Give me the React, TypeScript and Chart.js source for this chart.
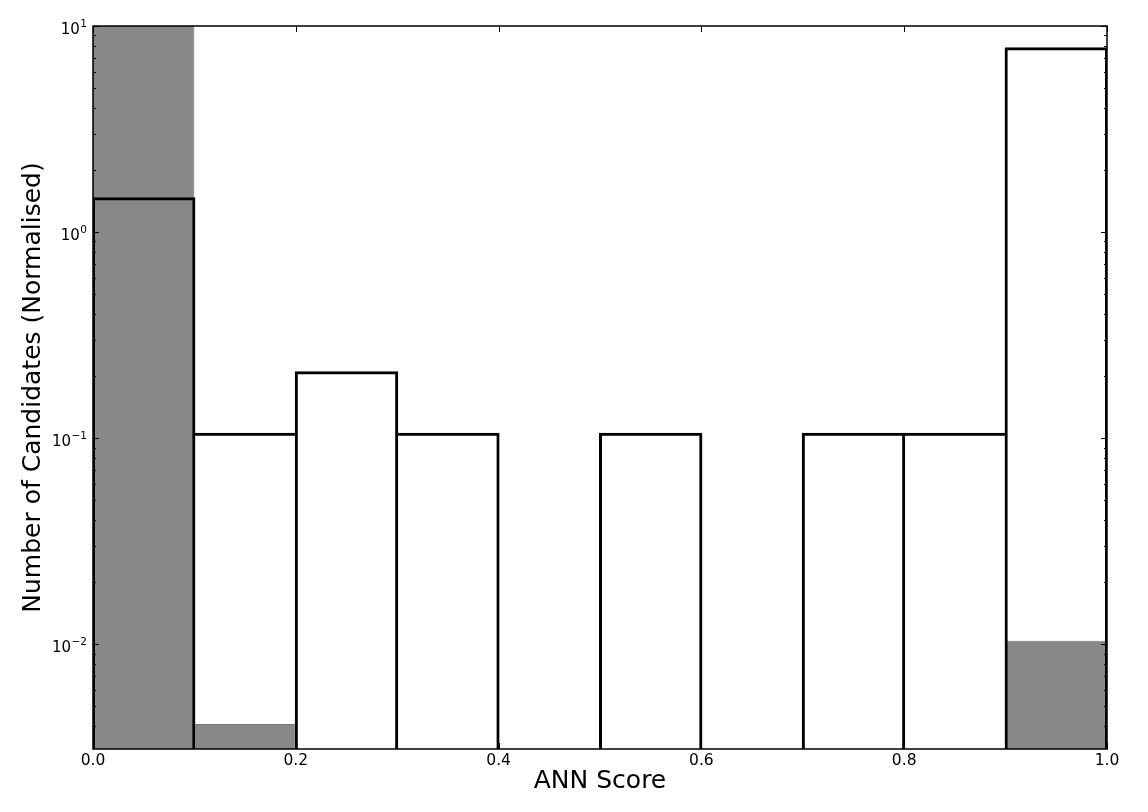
import React, { useEffect, useRef } from 'react';
import { Chart, registerables } from 'chart.js';

Chart.register(...registerables);

// Histogram bins (ANN score), 10 bins of width 0.1
const binCenters = [0.05, 0.15, 0.25, 0.35, 0.45, 0.55, 0.65, 0.75, 0.85, 0.95];
// Grey filled histogram (normalised)
const backgroundValues: (number | null)[] = [10.5, 0.0041, null, null, null, null, null, null, null, 0.0104];
// Black outlined histogram (normalised)
const candidateValues: (number | null)[] = [1.46, 0.105, 0.209, 0.105, null, 0.105, null, 0.105, 0.105, 7.8];

const xTickValues = [0, 0.2, 0.4, 0.6, 0.8, 1.0];
const xTickLabels = ['0.0', '0.2', '0.4', '0.6', '0.8', '1.0'];
const yTickValues = [0.01, 0.1, 1, 10];
const yTickBase = '10';
const yTickExponents = ['\u22122', '\u22121', '0', '1'];
const yMin = 0.0031;
const yMax = 10;

const FONT = 'DejaVu Sans';
const LINE_W = 1;

function outlineWidths(i: number) {
  const v = candidateValues[i] as number;
  const prev = i > 0 ? candidateValues[i - 1] : null;
  const next = i < candidateValues.length - 1 ? candidateValues[i + 1] : null;
  return {
    top: LINE_W,
    bottom: 0,
    left: prev == null || prev < v ? LINE_W : 0,
    right: next == null || next <= v ? LINE_W : 0,
  };
}

const framePlugin = {
  id: 'frameTicks',
  afterDatasetsDraw(chart: any) {
    const { ctx, chartArea: a, scales } = chart;
    const xs = scales.x;
    const ys = scales.y;
    ctx.save();
    ctx.strokeStyle = '#000';
    ctx.lineWidth = 1;
    const seg = (x1: number, y1: number, x2: number, y2: number) => {
      ctx.beginPath();
      ctx.moveTo(x1, y1);
      ctx.lineTo(x2, y2);
      ctx.stroke();
    };
    xTickValues.forEach((v) => {
      const px = Math.round(xs.getPixelForValue(v)) + 0.5;
      seg(px, a.bottom, px, a.bottom - 6);
      seg(px, a.top, px, a.top + 6);
    });
    yTickValues.forEach((v) => {
      const py = Math.round(ys.getPixelForValue(v)) + 0.5;
      seg(a.left, py, a.left + 6, py);
      seg(a.right, py, a.right - 6, py);
    });
    for (let e = -3; e <= 0; e++) {
      for (let m = 2; m <= 9; m++) {
        const v = m * Math.pow(10, e);
        if (v < yMin || v > yMax) continue;
        const py = Math.round(ys.getPixelForValue(v)) + 0.5;
        seg(a.left, py, a.left + 3, py);
        seg(a.right, py, a.right - 3, py);
      }
    }
    ctx.lineWidth = 1.5;
    ctx.strokeRect(a.left, a.top, a.right - a.left, a.bottom - a.top);

    // y tick labels with superscript exponents
    ctx.fillStyle = '#000';
    ctx.textBaseline = 'alphabetic';
    ctx.textAlign = 'right';
    const rightX = a.left - 6;
    yTickValues.forEach((v, i) => {
      const py = ys.getPixelForValue(v);
      ctx.font = `10.5px "${FONT}"`;
      const exp = yTickExponents[i];
      const ew = ctx.measureText(exp).width;
      ctx.fillText(exp, rightX, py + 0.5);
      ctx.font = `15px "${FONT}"`;
      ctx.fillText(yTickBase, rightX - ew - 0.5, py + 7.5);
    });
    ctx.restore();
  },
};

export default function App() {
  const canvasRef = useRef<HTMLCanvasElement | null>(null);

  useEffect(() => {
    const canvas = canvasRef.current;
    if (!canvas) return;
    const chart = new Chart(canvas, {
      type: 'bar',
      data: {
        datasets: [
          {
            label: 'All',
            data: binCenters.map((x, i) => ({ x, y: backgroundValues[i] })) as any,
            backgroundColor: '#888888',
            borderColor: '#747474',
            borderWidth: 1,
            borderSkipped: 'start',
            inflateAmount: 0,
            grouped: false,
            order: 2,
            barPercentage: 1,
            categoryPercentage: 1,
          } as any,
          {
            label: 'Candidates',
            data: binCenters.map((x, i) => ({ x, y: candidateValues[i] })) as any,
            backgroundColor: 'rgba(0,0,0,0)',
            borderColor: '#000000',
            borderWidth: (c: any) => outlineWidths(c.dataIndex),
            borderSkipped: 'start',
            inflateAmount: 1,
            grouped: false,
            order: 1,
            barPercentage: 1,
            categoryPercentage: 1,
          } as any,
        ],
      },
      options: {
        responsive: false,
        animation: false,
        devicePixelRatio: 1,
        layout: { padding: { top: 26, right: 41, bottom: 0, left: 0 } },
        plugins: {
          legend: { display: false },
          tooltip: { enabled: false },
          title: { display: false },
        },
        scales: {
          x: {
            type: 'linear',
            min: 0,
            max: 1,
            offset: false,
            grid: { display: false, drawTicks: false, offset: false },
            border: { display: false },
            afterBuildTicks: (s: any) => {
              s.ticks = xTickValues.map((v) => ({ value: v }));
            },
            afterFit: (s: any) => {
              s.height = 63;
            },
            ticks: {
              autoSkip: false,
              maxRotation: 0,
              padding: 3,
              color: '#000',
              font: { family: FONT, size: 15.5 },
              callback: (_v: any, i: number) => xTickLabels[i],
            },
            title: {
              display: true,
              text: 'ANN Score',
              color: '#000',
              font: { family: FONT, size: 25 },
              padding: { top: 0, bottom: 16 },
            },
          },
          y: {
            type: 'logarithmic',
            min: yMin,
            max: yMax,
            grid: { display: false, drawTicks: false },
            border: { display: false },
            afterBuildTicks: (s: any) => {
              s.ticks = yTickValues.map((v) => ({ value: v, major: true }));
            },
            afterFit: (s: any) => {
              s.width = 93;
            },
            ticks: {
              display: false,
            },
            title: {
              display: true,
              text: 'Number of Candidates (Normalised)',
              color: '#000',
              font: { family: FONT, size: 25 },
              padding: { top: 18, bottom: 0 },
            },
          },
        },
      } as any,
      plugins: [framePlugin],
    });
    return () => chart.destroy();
  }, []);

  return (
    <div style={{ position: 'absolute', left: 0, top: 0, width: 1148, height: 812, background: '#fff' }}>
      <canvas ref={canvasRef} width={1148} height={812} style={{ display: 'block' }} />
    </div>
  );
}
